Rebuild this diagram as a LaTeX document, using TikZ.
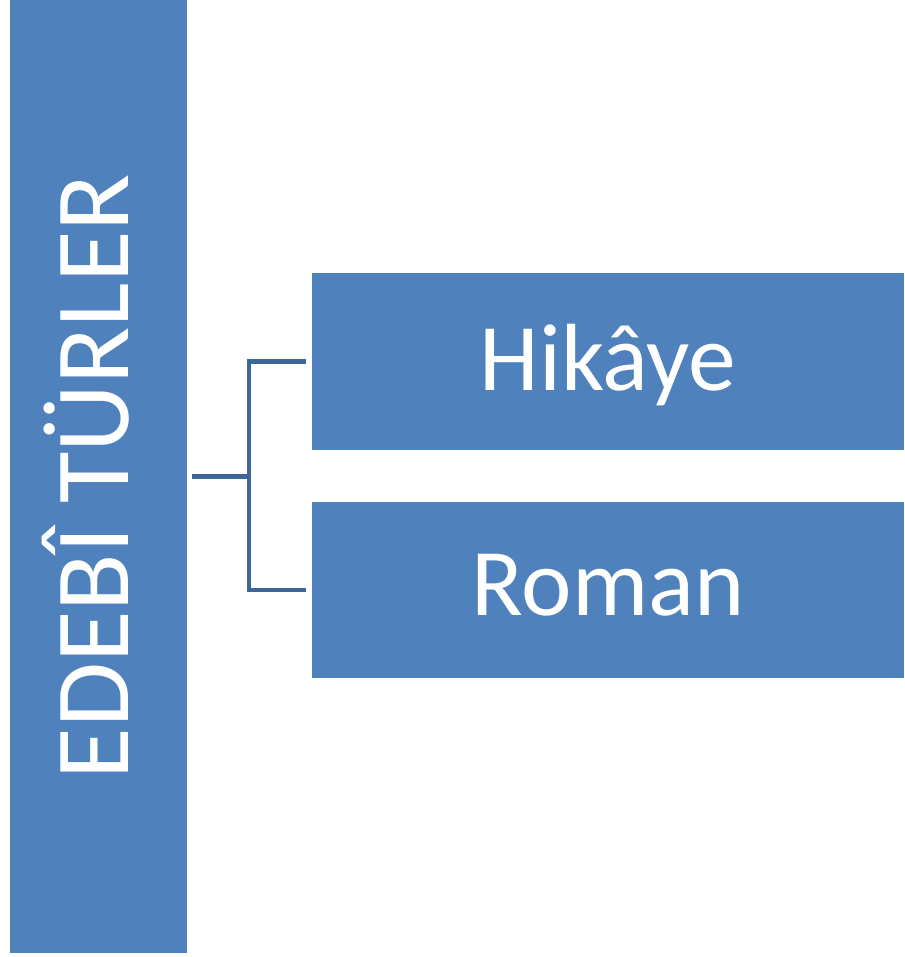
\documentclass[tikz,border=0pt]{standalone}
\usepackage{fontspec}
\setmainfont{Carlito}
\usetikzlibrary{calc}
\definecolor{boxblue}{HTML}{4F81BD}
\definecolor{linkblue}{HTML}{3F6699}
\tikzset{
  typebox/.style={fill=boxblue, shape=rectangle, inner sep=0pt, text=white, text depth=0pt},
  link/.style={draw=linkblue, line width=4.5pt}
}
\begin{document}
\begin{tikzpicture}[x=1pt, y=-1pt]
\useasboundingbox (0,0) rectangle (904,957);
\node[typebox, rotate=90, minimum width=953pt, minimum height=177pt, text height=59pt, font=\fontsize{105.5}{110}\selectfont] (title) at (98.5,476.5) {EDEBÎ TÜRLER};
\node[typebox, minimum width=592pt, minimum height=177pt, text height=57pt, font=\fontsize{95.5}{100}\selectfont] (hik) at (608,361.5) {Hikâye};
\node[typebox, minimum width=592pt, minimum height=176pt, text height=50pt, font=\fontsize{95.5}{100}\selectfont] (rom) at (608,590) {Roman};
\coordinate (fork) at (249,476.5);
\draw[link] ([xshift=5pt]title.south) -- (fork);
\draw[link] ([xshift=-6pt]hik.west) -| (fork) |- ([xshift=-6pt]rom.west);
\end{tikzpicture}
\end{document}
